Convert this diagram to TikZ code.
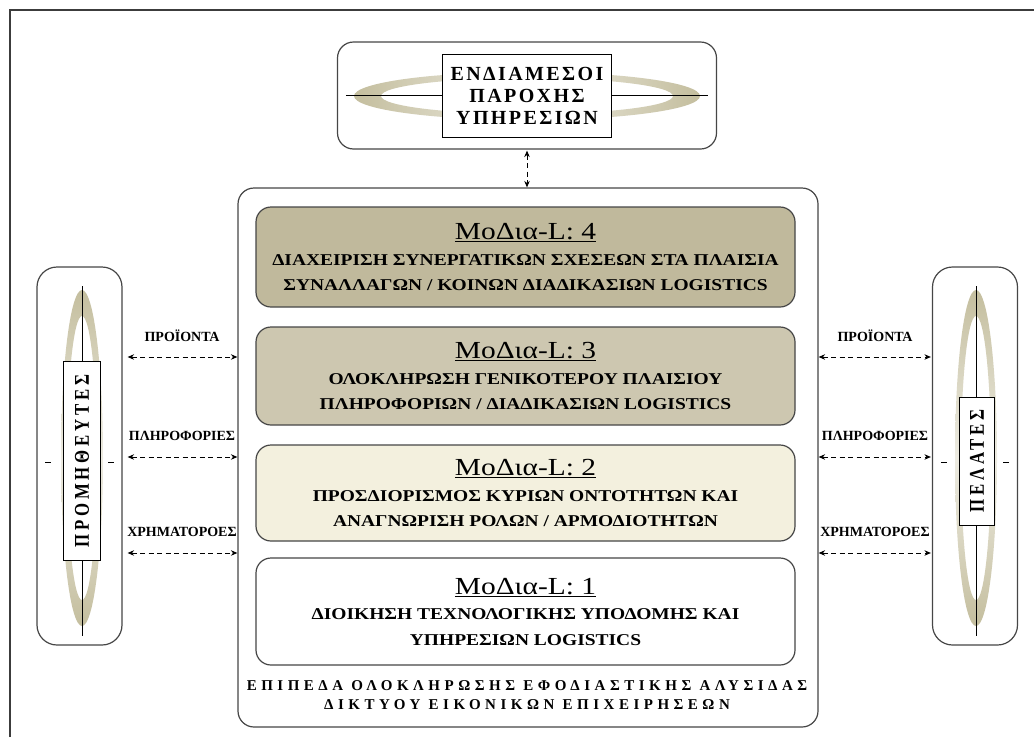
\documentclass[tikz,border=0pt]{standalone}
\usepackage{fontspec}
\setmainfont{Liberation Serif}
\newfontfamily\widefont[FakeStretch=1.18]{Liberation Serif}
\newfontfamily\titlefont[FakeStretch=1.2]{Liberation Serif}
\newfontfamily\spacedA[LetterSpace=12]{Liberation Serif}
\newfontfamily\spacedB[FakeStretch=0.8,LetterSpace=18]{Liberation Serif}
\newfontfamily\spacedC[LetterSpace=30]{Liberation Serif}
\usetikzlibrary{arrows.meta,calc}

\definecolor{frame}{RGB}{60,60,60}
\definecolor{edge}{RGB}{70,70,70}
\definecolor{khaki}{RGB}{196,190,158}
\definecolor{lvlfour}{RGB}{192,185,156}
\definecolor{lvlthree}{RGB}{205,199,176}
\definecolor{lvltwo}{RGB}{243,240,222}

\tikzset{
  roundbox/.style={draw=edge, line width=1.2pt, rounded corners=16pt, fill=white},
  lvlbox/.style={draw=edge, line width=1.2pt, rounded corners=15pt,
    minimum width=539pt, align=center, inner sep=0pt,
    font=\fontsize{16.5}{25.5}\selectfont\widefont\bfseries},
  namebox/.style={draw=black, line width=1pt, fill=white, inner sep=0pt},
  flow/.style={dash pattern=on 5pt off 3.5pt, line width=1pt,
    {Stealth[length=6.5pt,width=5.5pt]}-{Stealth[length=6.5pt,width=5.5pt]}},
  flowlabel/.style={font=\fontsize{14}{14}\selectfont\bfseries, inner sep=0pt},
  sidename/.style={rotate=90, font=\fontsize{21}{21}\selectfont\spacedB\bfseries}
}
\newcommand{\leveltitle}[1]{{\fontsize{24.5}{25}\selectfont\titlefont\mdseries\underline{#1}}}

\begin{document}
\begin{tikzpicture}[x=1pt,y=-1pt]
\useasboundingbox (0,0) rectangle (1034,737);

% page frame
\draw[frame, line width=2pt] (10,737) -- (10,10) -- (1034,10);

% intermediaries (top)
\node[roundbox, minimum width=379pt, minimum height=107pt] (mid) at (527,95.5) {};
\shade[even odd rule, left color=khaki, right color=khaki, middle color=khaki!30]
  (527,96) ellipse [x radius=173, y radius=24]
  (527,96) ellipse [x radius=146, y radius=18];
\draw[line width=1pt] ([xshift=9pt]mid.west) -- ([xshift=-9pt]mid.east);
\node[namebox, minimum width=169pt, minimum height=83pt, align=center,
  font=\fontsize{20}{22}\selectfont\spacedA\bfseries] (midname) at (527,96)
  {ΕΝΔΙΑΜΕΣΟΙ\\ΠΑΡΟΧΗΣ\\ΥΠΗΡΕΣΙΩΝ};

% suppliers (left)
\node[roundbox, rounded corners=20pt, minimum width=85pt, minimum height=378pt] (sup) at (79.5,456) {};
\shade[even odd rule, top color=khaki, bottom color=khaki, middle color=khaki!30]
  (82,458) ellipse [x radius=21, y radius=168]
  (82,458) ellipse [x radius=15, y radius=142];
\draw[line width=1pt] ([yshift=-20pt]sup.north -| 82,0) -- ([yshift=10pt]sup.south -| 82,0);
\draw[line width=1pt] ($(sup.west)+(9,6)$) -- ++(6,0);
\draw[line width=1pt] ($(sup.east)+(-9,6)$) -- ++(-6,0);
\node[namebox, minimum width=37pt, minimum height=199pt] (supname) at (82,461) {};
\node[sidename] at (supname) {ΠΡΟΜΗΘΕΥΤΕΣ};

% customers (right)
\node[roundbox, rounded corners=20pt, minimum width=85pt, minimum height=378pt] (cus) at (975,456) {};
\shade[even odd rule, top color=khaki, bottom color=khaki, middle color=khaki!30]
  (976,458) ellipse [x radius=21, y radius=168]
  (976,458) ellipse [x radius=15, y radius=142];
\draw[line width=1pt] ([yshift=-20pt]cus.north -| 976,0) -- ([yshift=10pt]cus.south -| 976,0);
\draw[line width=1pt] ($(cus.west)+(9,6)$) -- ++(6,0);
\draw[line width=1pt] ($(cus.east)+(-9,6)$) -- ++(-6,0);
\node[namebox, minimum width=35pt, minimum height=128pt] (cusname) at (977,461) {};
\node[sidename] at (cusname) {ΠΕΛΑΤΕΣ};

% integration levels (centre)
\node[roundbox, minimum width=580pt, minimum height=539pt] (main) at (528,457.5) {};
\node[lvlbox, fill=lvlfour, minimum height=100pt] (L4) at (525.5,257)
  {\leveltitle{ΜοΔια-L: 4}\\ΔΙΑΧΕΙΡΙΣΗ ΣΥΝΕΡΓΑΤΙΚΩΝ ΣΧΕΣΕΩΝ ΣΤΑ ΠΛΑΙΣΙΑ\\ΣΥΝΑΛΛΑΓΩΝ / ΚΟΙΝΩΝ ΔΙΑΔΙΚΑΣΙΩΝ LOGISTICS};
\node[lvlbox, fill=lvlthree, minimum height=98pt] (L3) at (525.5,376)
  {\leveltitle{ΜοΔια-L: 3}\\ΟΛΟΚΛΗΡΩΣΗ ΓΕΝΙΚΟΤΕΡΟΥ ΠΛΑΙΣΙΟΥ\\ΠΛΗΡΟΦΟΡΙΩΝ / ΔΙΑΔΙΚΑΣΙΩΝ LOGISTICS};
\node[lvlbox, fill=lvltwo, minimum height=96pt] (L2) at (525.5,493)
  {\leveltitle{ΜοΔια-L: 2}\\ΠΡΟΣΔΙΟΡΙΣΜΟΣ ΚΥΡΙΩΝ ΟΝΤΟΤΗΤΩΝ ΚΑΙ\\ΑΝΑΓΝΩΡΙΣΗ ΡΟΛΩΝ / ΑΡΜΟΔΙΟΤΗΤΩΝ};
\node[lvlbox, fill=white, minimum height=107pt] (L1) at (525.5,611.5)
  {\leveltitle{ΜοΔια-L: 1}\\ΔΙΟΙΚΗΣΗ ΤΕΧΝΟΛΟΓΙΚΗΣ ΥΠΟΔΟΜΗΣ ΚΑΙ\\ΥΠΗΡΕΣΙΩΝ LOGISTICS};
\node[align=center, inner sep=0pt, font=\fontsize{15}{19}\selectfont\spacedC\bfseries] (caption) at (527,695)
  {ΕΠΙΠΕΔΑ ΟΛΟΚΛΗΡΩΣΗΣ ΕΦΟΔΙΑΣΤΙΚΗΣ ΑΛΥΣΙΔΑΣ\\ΔΙΚΤΥΟΥ ΕΙΚΟΝΙΚΩΝ ΕΠΙΧΕΙΡΗΣΕΩΝ};

% flows
\draw[flow, shorten <=1pt] (mid.south) -- (mid.south |- main.north);

\foreach \yy/\lab/\nm in {357/ΠΡΟΪΟΝΤΑ/a, 457/ΠΛΗΡΟΦΟΡΙΕΣ/b, 553/ΧΡΗΜΑΤΟΡΟΕΣ/c} {
  \draw[flow, shorten <=5pt] (sup.east |- 0,\yy) -- (main.west |- 0,\yy);
  \node[flowlabel] (sl\nm) at (182,\yy-21) {\lab};
  \draw[flow, shorten >=1pt] (main.east |- 0,\yy) -- (cus.west |- 0,\yy);
  \node[flowlabel] (cl\nm) at (875,\yy-21) {\lab};
}
\end{tikzpicture}
\end{document}
